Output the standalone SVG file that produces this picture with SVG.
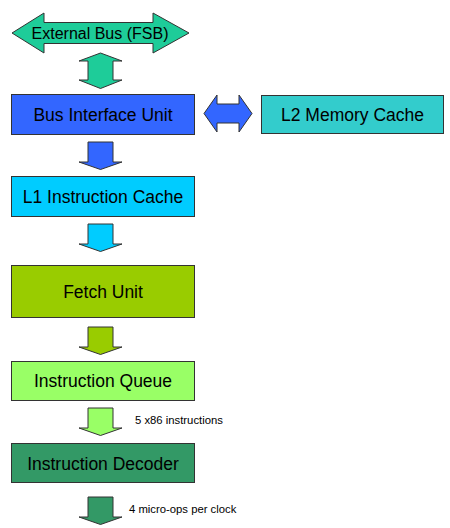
<svg xmlns="http://www.w3.org/2000/svg" width="450" height="528" viewBox="0 0 450 528">
<style>
.box{stroke:#333;stroke-width:1}
.arr{stroke:#333;stroke-width:1;stroke-linejoin:miter}
.t{font-family:"Liberation Sans",Arial,sans-serif;font-size:17.5px;fill:#000;text-anchor:middle}
.s{font-family:"Liberation Sans",Arial,sans-serif;font-size:11.3px;fill:#000}
</style>
<rect width="450" height="528" fill="#fff"/>
<g id="connectors">
<path id="ext-bus" class="arr" fill="#1ECC99" d="M12,33 L44,13 L44,22.5 L153,22.5 L153,13 L189,33 L153,53 L153,43.5 L44,43.5 L44,53 Z"/>
<path id="bus-biu" class="arr" fill="#1ECC99" d="M100.5,53 L122,61 L113,61 L113,80 L122,80 L100.5,88.5 L79,80 L88,80 L88,61 L79,61 Z"/>
<path id="biu-l2" class="arr" fill="#3366FF" d="M204,113.5 L217,95 L217,104 L239,104 L239,95 L252,113.5 L239,132 L239,123 L217,123 L217,132 Z"/>
<path id="biu-l1" class="arr" fill="#3366FF" d="M88,142 L113,142 L113,162 L122,162 L100.5,169.5 L79,162 L88,162 Z"/>
<path id="l1-fetch" class="arr" fill="#00CCFF" d="M88,224 L113,224 L113,244 L122,244 L100.5,251.5 L79,244 L88,244 Z"/>
<path id="fetch-iq" class="arr" fill="#99CC00" d="M88,327 L113,327 L113,347 L122,347 L100.5,354.5 L79,347 L88,347 Z"/>
<path id="iq-dec" class="arr" fill="#99FF66" d="M88,408 L113,408 L113,428 L122,428 L100.5,435.5 L79,428 L88,428 Z"/>
<path id="dec-out" class="arr" fill="#339966" d="M88,497 L113,497 L113,517 L122,517 L100.5,524.5 L79,517 L88,517 Z"/>
<text class="s" x="135" y="423.5">5 x86 instructions</text>
<text class="s" x="129" y="513">4 micro-ops per clock</text>
</g>
<g id="external-bus-label">
<text class="t" x="100" y="38.5" style="font-size:16px">External Bus (FSB)</text>
</g>
<g id="bus-interface-unit">
<rect class="box" x="11.5" y="94.5" width="183" height="40" fill="#3366FF"/>
<text class="t" x="103" y="121">Bus Interface Unit</text>
</g>
<g id="l2-cache">
<rect class="box" x="261.5" y="95.5" width="182" height="38" fill="#33CCCC"/>
<text class="t" x="352.5" y="121">L2 Memory Cache</text>
</g>
<g id="l1-cache">
<rect class="box" x="11.5" y="176.5" width="183" height="40" fill="#00CCFF"/>
<text class="t" x="103" y="203">L1 Instruction Cache</text>
</g>
<g id="fetch-unit">
<rect class="box" x="11.5" y="265.5" width="183" height="52" fill="#99CC00"/>
<text class="t" x="103" y="298">Fetch Unit</text>
</g>
<g id="instruction-queue">
<rect class="box" x="11.5" y="361.5" width="183" height="39" fill="#99FF66"/>
<text class="t" x="103" y="387">Instruction Queue</text>
</g>
<g id="instruction-decoder">
<rect class="box" x="11.5" y="443.5" width="183" height="39" fill="#339966"/>
<text class="t" x="103" y="469.5">Instruction Decoder</text>
</g>
</svg>
